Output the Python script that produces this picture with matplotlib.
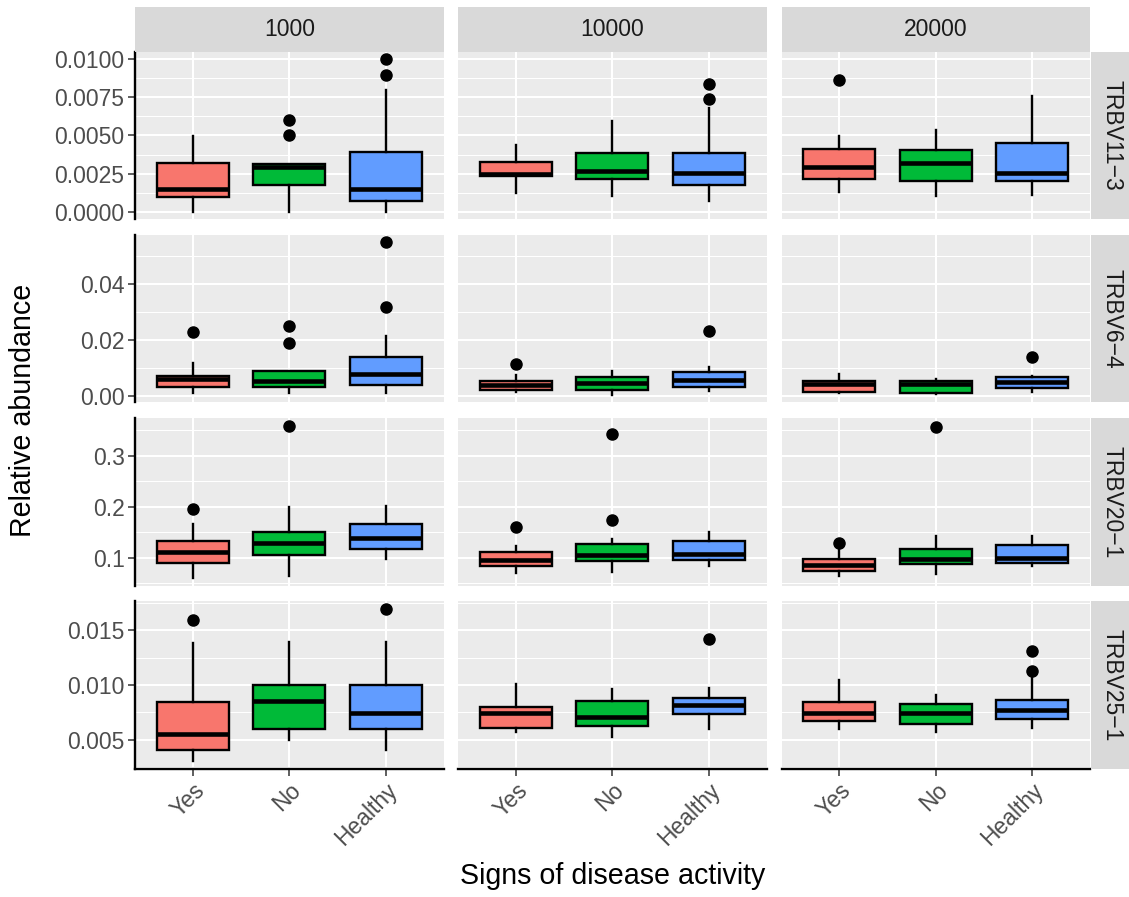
import numpy as np
import matplotlib.pyplot as plt

plt.rcParams['font.family'] = ['Liberation Sans', 'DejaVu Sans']

genes = ["TRBV11−3", "TRBV6−4", "TRBV20−1", "TRBV25−1"]
dilutions = ["1000", "10000", "20000"]
groups = ["Yes", "No", "Healthy"]
colors = ["#F8766D", "#00BA38", "#619CFF"]

# box statistics, indexed [gene][dilution][group]
q1 = [
    [[0.00096, 0.00175, 0.00072], [0.00234, 0.00217, 0.00177], [0.00217, 0.00201, 0.00199]],
    [[0.0030, 0.0032, 0.0037], [0.0019, 0.0020, 0.0030], [0.0014, 0.0011, 0.0027]],
    [[0.0902, 0.1053, 0.1165], [0.0850, 0.0940, 0.0955], [0.0733, 0.0876, 0.0890]],
    [[0.00402, 0.00594, 0.0060], [0.00606, 0.00628, 0.00734], [0.00667, 0.00646, 0.00692]],
]
median = [
    [[0.00146, 0.00295, 0.00146], [0.0025, 0.0027, 0.00256], [0.00293, 0.00322, 0.00256]],
    [[0.0060, 0.0054, 0.0078], [0.0038, 0.0044, 0.0056], [0.0042, 0.0041, 0.0050]],
    [[0.1118, 0.1300, 0.1380], [0.0950, 0.1050, 0.1067], [0.0851, 0.0969, 0.1000]],
    [[0.00555, 0.0085, 0.00747], [0.00743, 0.00707, 0.00814], [0.00747, 0.0074, 0.00768]],
]
q3 = [
    [[0.00322, 0.0031, 0.00394], [0.00326, 0.00387, 0.00387], [0.00414, 0.00402, 0.00449]],
    [[0.0072, 0.0089, 0.0140], [0.0054, 0.0067, 0.0084], [0.0054, 0.0053, 0.0068]],
    [[0.1327, 0.1504, 0.1655], [0.1118, 0.1280, 0.1333], [0.0969, 0.1176, 0.1250]],
    [[0.00844, 0.0100, 0.0100], [0.00798, 0.0085, 0.0088], [0.00844, 0.0083, 0.0086]],
]
whisker_low = [
    [[0.0, 0.0, 0.0], [0.0012, 0.00103, 0.00068], [0.00129, 0.00103, 0.00112]],
    [[0.0009, 0.0009, 0.0009], [0.0014, 0.0003, 0.0016], [0.0011, 0.0006, 0.0014]],
    [[0.0608, 0.0647, 0.0975], [0.0694, 0.0725, 0.0850], [0.0640, 0.0675, 0.0837]],
    [[0.00304, 0.0050, 0.00405], [0.0057, 0.00524, 0.0060], [0.0060, 0.0057, 0.00606]],
]
whisker_high = [
    [[0.00497, 0.0031, 0.0080], [0.00435, 0.00595, 0.0068], [0.00497, 0.00536, 0.00759]],
    [[0.0116, 0.0089, 0.0214], [0.0074, 0.0090, 0.0104], [0.0078, 0.0060, 0.0072]],
    [[0.166, 0.200, 0.202], [0.123, 0.1367, 0.150], [0.120, 0.1425, 0.1425]],
    [[0.01387, 0.0139, 0.0139], [0.0101, 0.0096, 0.0097], [0.0105, 0.00905, 0.0106]],
]
outliers = [
    [[[], [0.005, 0.006], [0.009, 0.010]], [[], [], [0.00737, 0.0084]], [[0.00864], [], []]],
    [[[0.0229], [0.0188, 0.0248], [0.0318, 0.0549]], [[0.0113], [], [0.0232]], [[], [], [0.0140]]],
    [[[0.1955], [0.3588], []], [[0.1596], [0.1739, 0.3425], []], [[0.1294], [0.3557], []]],
    [[[0.01598], [], [0.01699]], [[], [], [0.01418]], [[], [], [0.01125, 0.01311]]],
]

ytick_values = [
    [0.0, 0.0025, 0.005, 0.0075, 0.01],
    [0.0, 0.02, 0.04],
    [0.1, 0.2, 0.3],
    [0.005, 0.010, 0.015],
]
ytick_labels = [
    ["0.0000", "0.0025", "0.0050", "0.0075", "0.0100"],
    ["0.00", "0.02", "0.04"],
    ["0.1", "0.2", "0.3"],
    ["0.005", "0.010", "0.015"],
]

W, H = 1129, 897
fig = plt.figure(figsize=(W / 100, H / 100), dpi=100)

col_left = [135, 458, 781.5]
panel_w = 308.5
row_top = [51.7, 234.8, 417.9, 601]
panel_h = 167.6

panel_bg = "#EBEBEB"
strip_bg = "#D9D9D9"
tick_fs = 16.5

for r, gene in enumerate(genes):
    # shared y range per row, ggplot style 5% expansion
    vals = []
    for d in range(3):
        for g in range(3):
            vals += [whisker_low[r][d][g], whisker_high[r][d][g]] + outliers[r][d][g]
    lo, hi = min(vals), max(vals)
    pad = (hi - lo) * 0.05
    ylim = (lo - pad, hi + pad)

    major = ytick_values[r]
    step = major[1] - major[0]
    minor = [m + step / 2 for m in [major[0] - step] + major]

    for c in range(3):
        ax = fig.add_axes([col_left[c] / W, 1 - (row_top[r] + panel_h) / H,
                           panel_w / W, panel_h / H])
        ax.set_facecolor(panel_bg)
        ax.set_axisbelow(True)

        stats = []
        for g in range(3):
            stats.append(dict(med=median[r][c][g], q1=q1[r][c][g], q3=q3[r][c][g],
                              whislo=whisker_low[r][c][g], whishi=whisker_high[r][c][g],
                              fliers=outliers[r][c][g]))
        bp = ax.bxp(stats, positions=[1, 2, 3], widths=0.75, patch_artist=True,
                    showcaps=False,
                    boxprops=dict(edgecolor="black", linewidth=1.7),
                    whiskerprops=dict(color="black", linewidth=1.7),
                    medianprops=dict(color="black", linewidth=3.3),
                    flierprops=dict(marker="o", markerfacecolor="black",
                                    markeredgecolor="black", markersize=8))
        for patch, col in zip(bp["boxes"], colors):
            patch.set_facecolor(col)

        ax.set_xticks([1, 2, 3])
        ax.set_yticks(major)
        ax.set_yticks(minor, minor=True)
        ax.set_xticklabels(groups)
        ax.set_yticklabels(ytick_labels[r])
        ax.set_xlim(0.4, 3.6)
        ax.set_ylim(*ylim)

        ax.grid(which="major", color="white", linewidth=1.5)
        ax.grid(which="minor", axis="y", color="white", linewidth=0.75)
        ax.tick_params(which="minor", length=0)
        ax.tick_params(which="major", length=5, width=1.1, color="#333333",
                       labelcolor="#4D4D4D", labelsize=tick_fs, pad=2.5)

        for s in ["top", "right", "left", "bottom"]:
            ax.spines[s].set_visible(False)

        if c == 0:
            ax.spines["left"].set_visible(True)
            ax.spines["left"].set_linewidth(1.7)
            ax.spines["left"].set_color("black")
        else:
            ax.tick_params(axis="y", which="both", left=False, labelleft=False)

        if r == 3:
            ax.spines["bottom"].set_visible(True)
            ax.spines["bottom"].set_linewidth(1.7)
            ax.spines["bottom"].set_color("black")
            plt.setp(ax.get_xticklabels(), rotation=45, ha="right", va="top",
                     rotation_mode="anchor")
        else:
            ax.tick_params(axis="x", which="both", bottom=False, labelbottom=False)

        # top strips
        if r == 0:
            sax = fig.add_axes([col_left[c] / W, 1 - row_top[0] / H,
                                panel_w / W, 45 / H])
            sax.set_facecolor(strip_bg)
            sax.set_xticks([])
            sax.set_yticks([])
            for s in sax.spines.values():
                s.set_visible(False)
            sax.text(0.5, 0.5, dilutions[c], ha="center", va="center",
                     fontsize=tick_fs, color="#1A1A1A", transform=sax.transAxes)

    # right strip
    rax = fig.add_axes([1090.7 / W, 1 - (row_top[r] + panel_h) / H,
                        45 / W, panel_h / H])
    rax.set_facecolor(strip_bg)
    rax.set_xticks([])
    rax.set_yticks([])
    for s in rax.spines.values():
        s.set_visible(False)
    rax.text(0.48, 0.5, gene, ha="center", va="center", rotation=-90,
             fontsize=tick_fs, color="#1A1A1A", transform=rax.transAxes)

fig.text(612.5 / W, 1 - 876 / H, "Signs of disease activity", ha="center",
         va="center", fontsize=20.6)
fig.text(23 / W, 1 - 410 / H, "Relative abundance", ha="center", va="center",
         rotation=90, fontsize=20.6)

fig.savefig("out.png", dpi=100)
